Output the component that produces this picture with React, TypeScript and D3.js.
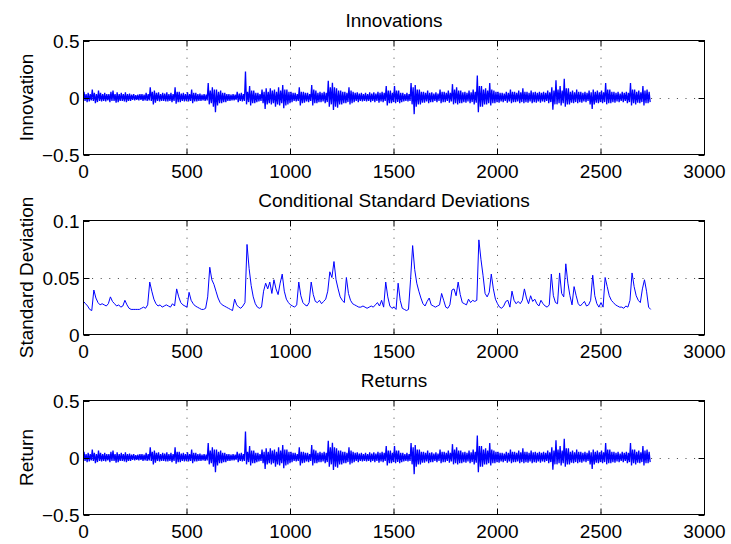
import React from "react";
import * as d3 from "d3";

// ---------- data ----------
const X_TICKS = [0, 500, 1000, 1500, 2000, 2500, 3000];
const X_TICK_LABELS = ["0", "500", "1000", "1500", "2000", "2500", "3000"];
const RET_Y_TICKS = [-0.5, 0, 0.5];
const RET_Y_TICK_LABELS = ["\u22120.5", "0", "0.5"];
const STD_Y_TICKS = [0, 0.05, 0.1];
const STD_Y_TICK_LABELS = ["0", "0.05", "0.1"];

// innovations in percent: upper / lower extreme per bin of 10 observations
const INNOV_BIN = 10;
const innovHiPct = [
  5, 3, 4, 3, 7, 4, 3, 6, 4, 3,
  4, 3, 3, 5, 6, 3, 4.5, 3, 4, 3,
  4.5, 3, 3.5, 2.5, 3, 2, 2.5, 3, 3, 2.5,
  4, 3, 9, 5, 6, 4, 4.5, 3, 4, 3.5,
  4.5, 3, 4, 3, 9, 5, 5, 3.5, 4, 3,
  4.5, 3, 7, 4, 4, 3, 3.5, 2.5, 3, 2.5,
  12.6, 6, 9, 7, 7, 5, 6, 4, 4, 3,
  3, 2.5, 3, 2.5, 5, 3.5, 4, 3, 22.8, 5,
  10, 6, 6, 4, 4, 3, 7, 5, 8, 5,
  8, 6, 7, 5, 9, 6, 11, 7, 7, 5,
  5, 4, 4, 3, 9, 5, 5, 4, 4, 3,
  11, 7, 6, 4, 5, 4, 5, 4, 14.6, 9,
  13, 9, 8, 6, 6, 5, 5, 4, 9, 6,
  5, 4, 4.5, 3.5, 4, 3, 4, 3, 4.5, 3.5,
  4.5, 3.5, 5, 4, 5, 4, 10, 6, 6, 4,
  10, 6, 6, 4, 4, 3, 4, 3, 12.6, 9,
  11, 7, 7, 5, 5, 4, 6, 4, 4.5, 3.5,
  4.5, 3.5, 7, 5, 5, 4, 6, 4, 11.7, 7,
  9, 6, 6, 4.5, 5, 4, 6, 4.5, 7, 5,
  19.3, 10, 10, 7, 8, 6, 12.6, 7, 6, 5,
  5, 4, 4, 3.5, 5, 4, 7, 5, 5, 4,
  6, 4.5, 8, 5, 5, 4, 6, 4.5, 5, 4,
  5, 4, 5, 4, 6, 4.5, 9, 6, 15, 7,
  10, 6, 16.4, 8, 8, 5, 6, 4.5, 7, 5,
  5, 4, 5, 4, 6, 4.5, 7, 5, 6, 4.5,
  6, 4.5, 12.6, 7, 7, 5, 5, 4, 5, 3.5,
  5, 4, 5, 4, 12.6, 7, 7, 5, 6, 4.5,
  10, 6, 7, 5,
];
const innovLoPct = [
  -3, -4, -3.5, -2.5, -3, -5, -4, -3, -3.5, -3,
  -3.5, -2.5, -4, -3, -3, -4.5, -4, -3, -3, -3.5,
  -4, -3, -3, -2, -2.5, -2, -2.5, -2, -3, -2.5,
  -3, -2.5, -3, -6, -4.5, -3, -3.5, -3, -3, -3.5,
  -3.5, -3, -4, -3, -5.5, -4, -4, -3, -3.5, -3,
  -3.5, -3, -5, -3.5, -3.5, -3, -3, -2.5, -3, -2.5,
  -6, -5, -8, -13, -7, -5, -5, -4, -4, -3,
  -3, -2.5, -2.5, -2, -4, -3, -3.5, -3, -6, -4,
  -7, -5, -5, -4, -3.5, -3, -5, -10, -6, -5,
  -6, -5, -8, -6, -7, -5, -9.4, -7, -6, -5,
  -4, -3, -3.5, -3, -7, -5, -4.5, -3.5, -4, -3,
  -7, -5, -5, -4, -4, -3.5, -5, -4, -8, -6,
  -11, -8, -9, -6, -6, -5, -5, -4, -6, -5,
  -4, -3, -4, -3, -3.5, -3, -3.5, -3, -4, -3,
  -4, -3, -4.5, -3.5, -4, -3, -7, -5, -5, -4,
  -5, -4, -5, -4, -3.5, -3, -3.5, -3, -6, -14.6,
  -8, -6, -6, -4.5, -4.5, -3.5, -5, -4, -4, -3,
  -4, -3, -5, -4, -4, -3, -4.5, -3.5, -6, -5,
  -6, -5, -5, -4, -4.5, -3.5, -5, -4, -6, -4.5,
  -12.9, -8, -8, -6, -6, -5, -7, -5, -5, -4,
  -4.5, -3.5, -4, -3, -4.5, -3.5, -5, -4, -4, -3.5,
  -5, -4, -5, -4, -4.5, -3.5, -5, -4, -4.5, -3.5,
  -4.5, -3.5, -4, -3, -5, -4, -10.8, -6, -6, -5,
  -7, -5, -8, -6, -6, -4.5, -5, -4, -5, -4,
  -4.5, -3.5, -4, -3, -6, -10, -6, -4.5, -5, -4,
  -5, -4, -6, -5, -5, -4, -4.5, -3.5, -4, -3,
  -4, -3, -5, -4, -7, -5, -6, -4.5, -5, -4,
  -7, -5, -5, -4,
];

// returns (constant mean ~0, so same shape as innovations)
const returnHiPct = innovHiPct;
const returnLoPct = innovLoPct;

// conditional standard deviations, one value every 10 observations
const STD_STEP = 10;
const condStd = [
  .029, .027, .025, .022, .021, .039, .032, .028, .026, .027,
  .026, .025, .027, .033, .029, .027, .025, .026, .024, .025,
  .030, .026, .023, .022, .022, .022, .022, .022, .023, .024,
  .023, .026, .046, .038, .031, .027, .025, .026, .024, .025,
  .026, .025, .024, .027, .025, .040, .033, .028, .026, .025,
  .024, .037, .030, .027, .025, .024, .023, .022, .022, .023,
  .033, .059, .048, .044, .038, .032, .028, .026, .025, .024,
  .023, .022, .021, .031, .026, .024, .023, .025, .028, .079,
  .058, .043, .033, .027, .024, .023, .024, .038, .045, .040,
  .046, .036, .048, .040, .035, .045, .053, .038, .031, .028,
  .026, .025, .024, .026, .046, .034, .028, .026, .025, .028,
  .046, .035, .029, .028, .030, .027, .029, .031, .038, .055,
  .050, .064, .048, .040, .033, .030, .028, .050, .036, .030,
  .027, .026, .025, .024, .024, .025, .024, .023, .024, .025,
  .024, .026, .028, .025, .030, .024, .046, .033, .025, .023,
  .024, .022, .045, .030, .023, .022, .021, .022, .048, .078,
  .057, .045, .038, .032, .027, .025, .029, .032, .026, .025,
  .024, .025, .026, .036, .030, .024, .023, .026, .039, .040,
  .034, .046, .035, .028, .027, .026, .031, .028, .030, .029,
  .030, .083, .066, .052, .036, .033, .037, .053, .040, .031,
  .027, .024, .023, .025, .029, .030, .024, .038, .030, .027,
  .029, .027, .030, .040, .032, .027, .034, .029, .031, .027,
  .025, .030, .027, .025, .024, .026, .053, .034, .028, .027,
  .054, .036, .033, .062, .045, .034, .026, .042, .034, .027,
  .025, .027, .029, .025, .026, .030, .052, .034, .027, .024,
  .028, .024, .050, .042, .034, .030, .028, .026, .025, .024,
  .024, .023, .025, .024, .030, .054, .042, .034, .030, .028,
  .040, .048, .038, .024, .022,
];

// ---------- layout ----------
const W = 731;
const H = 544;
const LEFT = 83.5;
const RIGHT = 704.5;
const AX_H = 114;
const TOPS = [40.5, 220.5, 400.5];
const FONT = "'Liberation Sans', Arial, Helvetica, sans-serif";
const FS = 19;
const TICK = 6;
const BLUE = "#0000ff";

type Panel = {
  title: string;
  ylabel: string;
  domain: [number, number];
  yTicks: number[];
  yLabels: string[];
  hiPct?: number[];
  loPct?: number[];
  values?: number[];
};

const panels: Panel[] = [
  { title: "Innovations", ylabel: "Innovation", domain: [-0.5, 0.5], yTicks: RET_Y_TICKS, yLabels: RET_Y_TICK_LABELS, hiPct: innovHiPct, loPct: innovLoPct },
  { title: "Conditional Standard Deviations", ylabel: "Standard Deviation", domain: [0, 0.1], yTicks: STD_Y_TICKS, yLabels: STD_Y_TICK_LABELS, values: condStd },
  { title: "Returns", ylabel: "Return", domain: [-0.5, 0.5], yTicks: RET_Y_TICKS, yLabels: RET_Y_TICK_LABELS, hiPct: returnHiPct, loPct: returnLoPct },
];

function PanelView({ p, top }: { p: Panel; top: number }) {
  const bottom = top + AX_H;
  const x = d3.scaleLinear().domain([0, 3000]).range([LEFT, RIGHT]);
  const y = d3.scaleLinear().domain(p.domain).range([bottom, top]);
  const line = d3.line<[number, number]>().x((d) => x(d[0])).y((d) => y(d[1]));

  let pts: [number, number][] = [];
  let sw = 1;
  if (p.values) {
    pts = p.values.map((v, i) => [i * STD_STEP, v] as [number, number]);
  } else if (p.hiPct && p.loPct) {
    const lo = p.loPct;
    sw = 1.3;
    p.hiPct.forEach((h, i) => {
      const t0 = i * INNOV_BIN;
      pts.push([t0 + 2.5, h / 100]);
      pts.push([t0 + 7.5, lo[i] / 100]);
    });
  }
  const cx = (LEFT + RIGHT) / 2;
  const cy = (top + bottom) / 2;
  const clipId = `clip-${Math.round(top)}`;

  return (
    <g>
      <defs>
        <clipPath id={clipId}>
          <rect x={LEFT} y={top} width={RIGHT - LEFT} height={AX_H} />
        </clipPath>
      </defs>
      {/* grid */}
      {X_TICKS.slice(1, -1).map((t) => (
        <line key={"gx" + t} x1={x(t)} x2={x(t)} y1={top} y2={bottom} stroke="#444" strokeWidth={1} strokeDasharray="1,7.6" />
      ))}
      {p.yTicks.slice(1, -1).map((t) => (
        <line key={"gy" + t} x1={LEFT} x2={RIGHT} y1={Math.round(y(t)) + 0.5} y2={Math.round(y(t)) + 0.5} stroke="#444" strokeWidth={1} strokeDasharray="1,7.6" />
      ))}
      {/* data */}
      <g clipPath={`url(#${clipId})`}>
        <path d={line(pts) || ""} fill="none" stroke={BLUE} strokeWidth={sw} />
      </g>
      {/* box */}
      <rect x={LEFT} y={top} width={RIGHT - LEFT} height={AX_H} fill="none" stroke="#000" strokeWidth={1} />
      {/* ticks */}
      {X_TICKS.map((t) => (
        <g key={"tx" + t}>
          <line x1={x(t)} x2={x(t)} y1={bottom} y2={bottom - TICK} stroke="#000" />
          <line x1={x(t)} x2={x(t)} y1={top} y2={top + TICK} stroke="#000" />
        </g>
      ))}
      {p.yTicks.map((t) => {
        const yy = Math.round(y(t)) + 0.5;
        return (
          <g key={"ty" + t}>
            <line x1={LEFT} x2={LEFT + TICK} y1={yy} y2={yy} stroke="#000" />
            <line x1={RIGHT} x2={RIGHT - TICK} y1={yy} y2={yy} stroke="#000" />
          </g>
        );
      })}
      {/* tick labels */}
      {X_TICKS.map((t, i) => (
        <text key={"lx" + t} x={x(t)} y={bottom + 23.5} textAnchor="middle" fontSize={FS} fontFamily={FONT} fill="#000">
          {X_TICK_LABELS[i]}
        </text>
      ))}
      {p.yTicks.map((t, i) => (
        <text key={"ly" + t} x={LEFT - 4} y={y(t) + 7} textAnchor="end" fontSize={FS} fontFamily={FONT} fill="#000">
          {p.yLabels[i]}
        </text>
      ))}
      {/* title */}
      <text x={cx} y={top - 14} textAnchor="middle" fontSize={FS} fontFamily={FONT} fill="#000">
        {p.title}
      </text>
      {/* y label */}
      <text transform={`translate(33,${cy}) rotate(-90)`} textAnchor="middle" fontSize={FS} fontFamily={FONT} fill="#000">
        {p.ylabel}
      </text>
    </g>
  );
}

export default function App() {
  return (
    <svg
      width={W}
      height={H}
      viewBox={`0 0 ${W} ${H}`}
      style={{ position: "absolute", left: 0, top: 0, background: "#fff" }}
    >
      <rect x={0} y={0} width={W} height={H} fill="#fff" />
      {panels.map((p, i) => (
        <PanelView key={p.title} p={p} top={TOPS[i]} />
      ))}
    </svg>
  );
}
